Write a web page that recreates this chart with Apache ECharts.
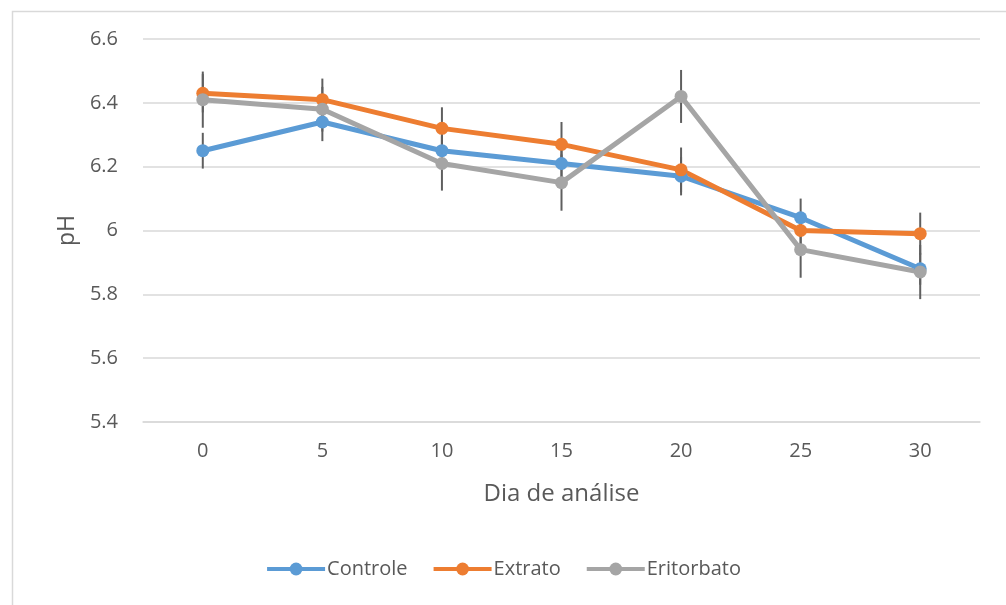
<!DOCTYPE html>
<html>
<head>
<meta charset="utf-8">
<script src="https://cdn.jsdelivr.net/npm/echarts@6/dist/echarts.min.js"></script>
<style>html,body{margin:0;padding:0;background:#fff}#c{width:1006px;height:605px}</style>
</head>
<body>
<div id="c"></div>
<script>
const categories = ['0', '5', '10', '15', '20', '25', '30'];
const yTicks = [5.4, 5.6, 5.8, 6.0, 6.2, 6.4, 6.6];
const controle = [6.25, 6.34, 6.25, 6.21, 6.17, 6.04, 5.88];
const extrato = [6.43, 6.41, 6.32, 6.27, 6.19, 6.00, 5.99];
const eritorbato = [6.41, 6.38, 6.21, 6.15, 6.42, 5.94, 5.87];
const controleErr = [0.056, 0.06, 0.05, 0.05, 0.06, 0.06, 0.05];
const extratoErr = [0.06, 0.066, 0.066, 0.07, 0.07, 0.05, 0.066];
const eritorbatoErr = [0.088, 0.07, 0.085, 0.088, 0.083, 0.088, 0.085];

const FONT = 'Open Sans';
const TXT = '#595959';

function errSeries(vals, errs) {
  return {
    type: 'custom',
    z: 1,
    silent: true,
    data: vals.map((v, i) => [i, v, errs[i]]),
    renderItem: function (params, api) {
      const x = api.value(0), v = api.value(1), e = api.value(2);
      const p1 = api.coord([x, v + e]);
      const p2 = api.coord([x, v - e]);
      return {
        type: 'line',
        shape: { x1: p1[0], y1: p1[1], x2: p2[0], y2: p2[1] },
        style: { stroke: '#5f5f5f', lineWidth: 2 }
      };
    }
  };
}

function lineSeries(name, data, color) {
  return {
    name: name, type: 'line', data: data, z: 3,
    symbol: 'circle', symbolSize: 13,
    lineStyle: { color: color, width: 5 },
    itemStyle: { color: color },
    emphasis: { disabled: true }
  };
}

const chart = echarts.init(document.getElementById('c'));
chart.setOption({
  animation: false,
  backgroundColor: '#fff',
  graphic: [{
    type: 'rect', left: 10, top: 9,
    shape: { width: 1010, height: 610 },
    style: { fill: 'none', stroke: '#d9d9d9', lineWidth: 1.5 }
  }],
  grid: { left: 143, right: 26, top: 39, bottom: 183 },
  legend: {
    bottom: 21, left: 'center',
    itemWidth: 58, itemHeight: 16, itemGap: 24,
    lineStyle: { width: 4 },
    textStyle: { fontFamily: FONT, fontSize: 20, color: TXT, padding: [0, 0, 0, -3] },
    data: ['Controle', 'Extrato', 'Eritorbato']
  },
  xAxis: {
    type: 'category', data: categories, boundaryGap: true,
    name: 'Dia de análise', nameLocation: 'middle', nameGap: 60,
    nameTextStyle: { fontFamily: FONT, fontSize: 24, color: TXT },
    axisLine: { lineStyle: { color: '#d9d9d9', width: 1.5 } },
    axisTick: { show: false },
    axisLabel: { fontFamily: FONT, fontSize: 20, color: TXT, margin: 19 }
  },
  yAxis: {
    type: 'value', min: yTicks[0], max: yTicks[yTicks.length - 1], interval: 0.2,
    name: 'pH', nameLocation: 'middle', nameGap: 63, nameRotate: 90,
    nameTextStyle: { fontFamily: FONT, fontSize: 23, color: TXT },
    axisLine: { show: false },
    axisTick: { show: false },
    axisLabel: { fontFamily: FONT, fontSize: 20, color: TXT, margin: 25,
      formatter: v => String(Math.round(v * 10) / 10) },
    splitLine: { lineStyle: { color: '#d9d9d9', width: 1.5 } }
  },
  series: [
    errSeries(controle, controleErr),
    errSeries(extrato, extratoErr),
    errSeries(eritorbato, eritorbatoErr),
    lineSeries('Controle', controle, '#5b9bd5'),
    lineSeries('Extrato', extrato, '#ed7d31'),
    lineSeries('Eritorbato', eritorbato, '#a5a5a5')
  ]
});
</script>
</body>
</html>
